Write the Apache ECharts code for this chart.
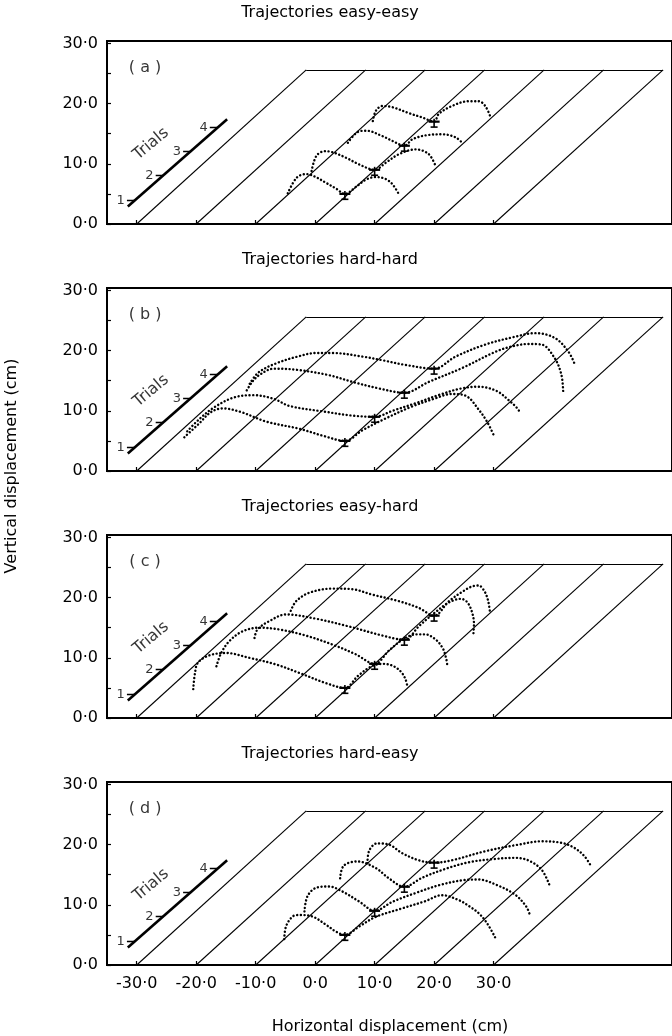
<!DOCTYPE html>
<html>
<head>
<meta charset="utf-8">
<script src="https://cdn.jsdelivr.net/npm/echarts@6/dist/echarts.min.js"></script>
<style>
  html, body { margin: 0; padding: 0; background: #fff; }
  #chart { width: 672px; height: 1036px; }
</style>
</head>
<body>
<div id="chart"></div>
<script>
// Panel headings and tags
const panelTitles = ['Trajectories easy-easy', 'Trajectories hard-hard', 'Trajectories easy-hard', 'Trajectories hard-easy'];
const panelTags = ['( a )', '( b )', '( c )', '( d )'];

// Axis ticks (cm)
const xTicks = [-30, -20, -10, 0, 10, 20, 30];
const yTicks = [0, 5, 10, 15, 20, 25, 30];
const yLabels = [0, 10, 20, 30];

// Perspective floor: one slanted lane per horizontal tick, rising to the back edge
const laneStarts = [-30, -20, -10, 0, 10, 20, 30];
const laneRun = 28.5;
const laneRise = 25.6;

// Trials depth axis
const trialAxisFrom = [-31.5, 2.9];
const trialAxisTo = [-14.8, 17.4];
const trialTickY = [3.9, 8.1, 12.1, 16.0];
const trialNames = ['1', '2', '3', '4'];

// Mean end points of the first movement per trial, with error bar extents
const trialMeans = [[5, 5], [10, 9], [15, 13], [20, 17]];
const meanErrLow = [0.9, 0.9, 0.9, 0.9];
const meanErrHigh = [0.5, 0.5, 0.5, 0.5];

// Hand trajectories per trial [horizontal, vertical]
const easyEasy = [
  [[-4.6,5.1],[-3.1,7.7],[-1.5,8.3],[-0.1,7.9],[1.9,6.8],[3.5,5.9],[5,5],[6.9,6.2],[8.6,7.4],[10.2,7.8],[11.8,7.5],[13.0,6.6],[14.1,4.9]],
  [[-0.6,8.8],[0.2,11.3],[1.6,12.1],[3.0,11.9],[5.2,11.0],[7.4,9.9],[10,9],[11.9,10.2],[14.1,11.6],[16.9,12.4],[19.1,11.6],[20.3,9.5]],
  [[5.5,13.5],[7.2,15.3],[8.6,15.5],[11.3,14.6],[13.0,13.8],[15,13],[16.4,14.1],[19.1,14.8],[21.4,14.9],[23.6,14.4],[24.7,13.5]],
  [[9.7,17.1],[10.2,18.8],[11.3,19.6],[13.0,19.4],[15.8,18.4],[18.0,17.7],[20,17],[20.8,18.3],[23.0,19.6],[25.8,20.4],[27.5,20.4],[28.6,19.6],[29.5,17.7]]
];
const hardHard = [
  [[-22.0,5.6],[-19.6,7.8],[-17.5,9.8],[-15.5,10.4],[-12.5,9.8],[-8.2,8.2],[-2.6,7.0],[1.5,5.8],[5,5],[8,6.8],[12,8.8],[16,10.6],[20,12.0],[23,12.8],[25.5,12.4],[27.5,10.2],[28.9,8.2],[30,6]],
  [[-21.5,6.6],[-19.5,8.6],[-17.1,10.5],[-13.7,12.2],[-10.4,12.6],[-7,12.0],[-4.3,10.8],[1.3,9.9],[6.3,9.2],[10,9],[13,10],[17,11.3],[21,12.7],[24.5,13.7],[27.5,14.0],[30.5,13.3],[32.5,11.8],[34,10.4],[34.5,9.6]],
  [[-11.5,13.4],[-10.5,14.9],[-9.3,16.0],[-7,17.0],[-3,16.8],[2.4,15.9],[6.3,14.8],[10.8,13.7],[15,13],[19.1,14.8],[24.7,17.1],[30.3,19.8],[33.1,20.7],[35.9,21.1],[38.1,21.0],[40.3,18.7],[41.4,16.0],[41.7,13.2]],
  [[-11.0,14.5],[-9.5,16.4],[-6.5,17.9],[-3,19.0],[0.2,19.6],[3,19.6],[8,19.0],[11.3,18.4],[15.3,17.6],[20,17],[23.6,19.0],[28.6,21.0],[33.6,22.3],[37,22.9],[40.3,22.1],[42.6,19.8],[43.7,17.6]]
];
const easyHard = [
  [[-20.5,4.8],[-20.2,7.5],[-19.7,9.2],[-17.8,10.4],[-15.0,10.8],[-11.1,10.0],[-6.6,8.9],[-2.7,7.5],[1.8,5.8],[5,5],[7.2,7.0],[9.5,8.6],[11.5,9.0],[13.2,8.6],[14.5,7.6],[15.2,6.4],[15.5,5.3]],
  [[-16.6,8.6],[-15.8,10.8],[-14.4,12.8],[-12.2,14.4],[-9.4,15.0],[-6.0,14.7],[-1.6,13.7],[2.9,12.2],[6.8,10.6],[10,9],[12.5,11.3],[15,13.2],[17,13.9],[18.5,13.9],[20.3,13.0],[21.5,11.5],[22.0,10.0],[22.2,8.9]],
  [[-10.2,13.3],[-9.7,14.7],[-7.7,16.1],[-4.9,17.2],[0.1,16.5],[5.7,15.2],[11.3,13.7],[15,13],[17.5,15.3],[20,17.4],[22.5,19.2],[24.5,19.8],[25.6,19.2],[26.4,17.5],[26.7,15.6],[26.6,13.9]],
  [[-4.1,17.8],[-3.2,19.4],[-1.0,20.8],[2.9,21.5],[6.2,21.4],[9.6,20.5],[14.1,19.4],[17.4,18.3],[20,17],[22.5,19.4],[24.8,21.0],[26.5,21.9],[27.5,22.0],[28.5,21.0],[29.1,19.4],[29.4,17.5]]
];
const hardEasy = [
  [[-5.2,4.3],[-4.9,6.4],[-3.8,8.05],[-2.7,8.3],[-0.45,8.05],[1.8,6.7],[3.5,5.55],[5,5],[7.4,6.4],[10.2,8.0],[14.6,9.4],[18.5,10.6],[21.3,11.6],[24.1,10.8],[26,9.7],[27.5,8.6],[28.9,6.95],[30.3,4.5]],
  [[-1.8,8.9],[-1.3,11.4],[0.1,12.8],[2.3,13.05],[4.6,12.2],[7.4,10.55],[10,9],[13,10.5],[17,12],[21,13.3],[25,14.1],[27.5,14.2],[30.5,13.3],[33.6,11.7],[35.5,9.7],[36.1,8.3]],
  [[4.2,14.4],[4.8,16.5],[7.1,17.2],[10.2,16.1],[12.4,14.4],[15,13],[18,14.5],[22,16],[26,17.1],[30,17.6],[33.5,17.8],[35.8,17.4],[38.1,15.8],[39.5,13]],
  [[8.8,16.9],[9.05,18.9],[10.4,20.2],[12.4,20.0],[14.6,18.6],[17.4,17.4],[20,17],[23,17.4],[28.6,18.9],[34.2,20.0],[38.1,20.55],[41.4,20.3],[43.6,19.45],[45.3,18.05],[46.4,16.4]]
];

const panels = [easyEasy, hardHard, easyHard, hardEasy];

// ---- layout ----
const FONT = 'DejaVu Sans';
const gridTops = [41, 288, 535, 782];
const gridLeft = 107, gridWidth = 567, gridHeight = 183;
const fmt = v => (v < 0 ? '-' : '') + Math.abs(v).toFixed(1).replace('.', '\u00B7');
const onTrialAxis = y => trialAxisFrom[0] + (y - trialAxisFrom[1]) * (trialAxisTo[0] - trialAxisFrom[0]) / (trialAxisTo[1] - trialAxisFrom[1]);

const grids = [], xAxes = [], yAxes = [], series = [], graphics = [];

panels.forEach((trials, i) => {
  grids.push({
    left: gridLeft, top: gridTops[i], width: gridWidth, height: gridHeight,
    show: true, borderColor: '#000', borderWidth: 2, backgroundColor: 'transparent'
  });
  xAxes.push({
    type: 'value', gridIndex: i, min: -35, max: 60,
    axisLine: { show: true, onZero: false, lineStyle: { color: '#000', width: 2 } },
    axisTick: { show: true, inside: true, length: 4, customValues: xTicks, lineStyle: { color: '#000', width: 1.2 } },
    axisLabel: {
      show: i === 3, customValues: xTicks, formatter: fmt, margin: 11,
      color: '#000', fontSize: 16, fontFamily: FONT
    },
    splitLine: { show: false }
  });
  yAxes.push({
    type: 'value', gridIndex: i, min: 0, max: 30.4,
    axisLine: { show: true, onZero: false, lineStyle: { color: '#000', width: 2 } },
    axisTick: { show: true, inside: true, length: 4, customValues: yTicks, lineStyle: { color: '#000', width: 1.2 } },
    axisLabel: { show: true, customValues: yLabels, formatter: fmt, margin: 9, color: '#000', fontSize: 16, fontFamily: FONT },
    splitLine: { show: false }
  });

  // slanted lanes and the back edge of the floor
  const laneData = laneStarts.map(s => ({ coords: [[s, 0], [s + laneRun, laneRise]] }));
  laneData.push({ coords: [[laneStarts[0] + laneRun, laneRise], [laneStarts[laneStarts.length - 1] + laneRun, laneRise]] });
  series.push({
    type: 'lines', coordinateSystem: 'cartesian2d', xAxisIndex: i, yAxisIndex: i,
    silent: true, data: laneData,
    lineStyle: { color: '#000', width: 1.1, opacity: 1 }
  });

  // trials depth axis with ticks
  const tickData = trialTickY.map(y => {
    const x = onTrialAxis(y);
    return { coords: [[x - 1.3, y], [x, y]] };
  });
  series.push({
    type: 'lines', coordinateSystem: 'cartesian2d', xAxisIndex: i, yAxisIndex: i,
    silent: true, data: [{ coords: [trialAxisFrom, trialAxisTo], lineStyle: { width: 2.6 } }].concat(tickData),
    lineStyle: { color: '#000', width: 1.3, opacity: 1 }
  });
  series.push({
    type: 'scatter', xAxisIndex: i, yAxisIndex: i, silent: true,
    symbolSize: 1, itemStyle: { color: 'transparent' },
    data: trialTickY.map((y, k) => ({ value: [onTrialAxis(y) - 1.4, y], name: trialNames[k] })),
    label: { show: true, position: 'left', distance: 1, formatter: p => p.name, color: '#000', fontSize: 13, fontFamily: FONT }
  });
  // "Trials" caption and panel tag
  series.push({
    type: 'scatter', xAxisIndex: i, yAxisIndex: i, silent: true,
    symbolSize: 1, itemStyle: { color: 'transparent' },
    data: [{ value: [-27.6, 13.3], name: 'Trials' }],
    label: { show: true, position: 'inside', rotate: 40, formatter: p => p.name, color: '#000', fontSize: 16, fontFamily: FONT }
  });
  series.push({
    type: 'scatter', xAxisIndex: i, yAxisIndex: i, silent: true,
    symbolSize: 1, itemStyle: { color: 'transparent' },
    data: [{ value: [-28.6, 26.0], name: panelTags[i] }],
    label: { show: true, position: 'inside', formatter: p => p.name, color: '#000', fontSize: 16, fontFamily: FONT }
  });

  // dotted trajectories
  trials.forEach(pts => {
    series.push({
      type: 'line', xAxisIndex: i, yAxisIndex: i, silent: true,
      data: pts, smooth: 0.35, symbol: 'none',
      lineStyle: { color: '#000', width: 2.4, type: [0.1, 3.6], cap: 'round' }
    });
  });

  // mean end points with error bars
  series.push({
    type: 'custom', xAxisIndex: i, yAxisIndex: i, silent: true,
    data: trialMeans.map((m, k) => [m[0], m[1], meanErrLow[k], meanErrHigh[k]]),
    renderItem: (params, api) => {
      const x = api.value(0), y = api.value(1);
      const c = api.coord([x, y]);
      const b = api.coord([x, y - api.value(2)]);
      const t = api.coord([x, y + api.value(3)]);
      const st = { stroke: '#000', lineWidth: 1.6 };
      return {
        type: 'group', children: [
          { type: 'line', shape: { x1: c[0] - 5.5, y1: c[1], x2: c[0] + 5.5, y2: c[1] }, style: { stroke: '#000', lineWidth: 2.2 } },
          { type: 'line', shape: { x1: t[0], y1: t[1], x2: b[0], y2: b[1] }, style: st },
          { type: 'line', shape: { x1: b[0] - 3.5, y1: b[1], x2: b[0] + 3.5, y2: b[1] }, style: st }
        ]
      };
    }
  });

  graphics.push({
    type: 'text', x: 330, y: gridTops[i] - 28,
    style: { text: panelTitles[i], align: 'center', verticalAlign: 'middle', fontSize: 16, fontFamily: FONT, fill: '#000' }
  });
});

graphics.push({
  type: 'text', x: 390, y: 1027,
  style: { text: 'Horizontal displacement (cm)', align: 'center', verticalAlign: 'middle', fontSize: 16, fontFamily: FONT, fill: '#000' }
});
graphics.push({
  type: 'text', x: 12, y: 466, rotation: Math.PI / 2,
  style: { text: 'Vertical displacement (cm)', align: 'center', verticalAlign: 'middle', fontSize: 16, fontFamily: FONT, fill: '#000' }
});

const chart = echarts.init(document.getElementById('chart'), null, { renderer: 'canvas' });
chart.setOption({
  animation: false,
  backgroundColor: '#fff',
  grid: grids,
  xAxis: xAxes,
  yAxis: yAxes,
  series: series,
  graphic: graphics
});
</script>
</body>
</html>
